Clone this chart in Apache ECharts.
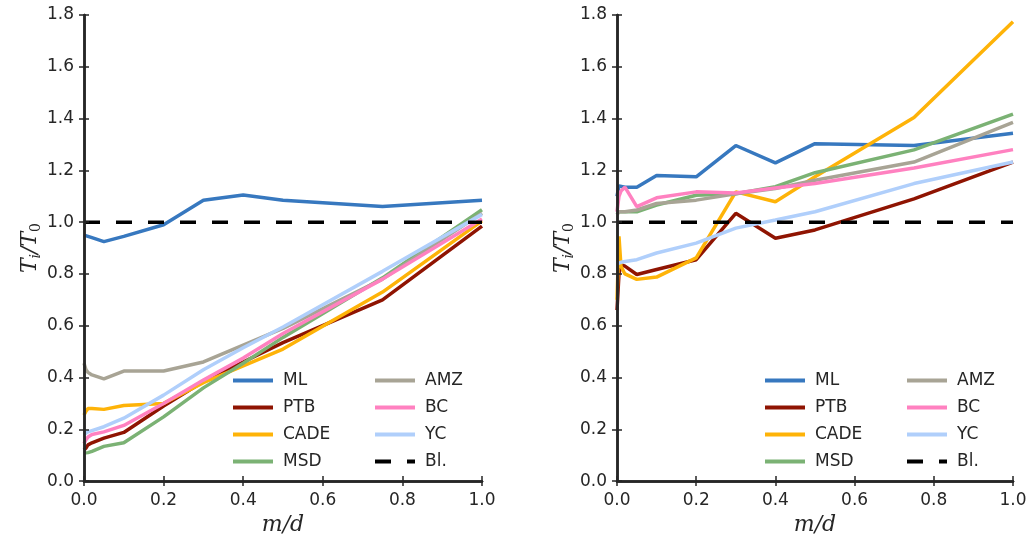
<!DOCTYPE html>
<html lang="en">

<head>
    <meta charset="UTF-8">
    <title>Ti/T0 vs m/d</title>
    <script src="https://cdn.jsdelivr.net/npm/echarts@6.0.0/dist/echarts.min.js"></script>
    <style>
        html, body { margin: 0; padding: 0; background: #fff; }
        #chart { width: 1031px; height: 541px; }
    </style>
</head>

<body>
    <div id="chart"></div>

    <script>
        // x 取值 (m/d)
        var xs = [0, 0.005, 0.01, 0.02, 0.05, 0.1, 0.2, 0.3, 0.4, 0.5, 0.75, 1.0];
        var xTicks = [0.0, 0.2, 0.4, 0.6, 0.8, 1.0];
        var yTicks = [0.0, 0.2, 0.4, 0.6, 0.8, 1.0, 1.2, 1.4, 1.6, 1.8];
        var names = ['ML', 'PTB', 'CADE', 'MSD', 'AMZ', 'BC', 'YC'];

        // 左图
        var mlL   = [0.95, 0.945, 0.945, 0.94, 0.925, 0.945, 0.99, 1.085, 1.105, 1.085, 1.06, 1.085];
        var ptbL  = [0.12, 0.128, 0.14, 0.148, 0.166, 0.188, 0.29, 0.385, 0.46, 0.535, 0.70, 0.985];
        var cadeL = [0.255, 0.27, 0.28, 0.28, 0.277, 0.292, 0.30, 0.38, 0.445, 0.51, 0.73, 1.005];
        var msdL  = [0.108, 0.108, 0.11, 0.115, 0.134, 0.148, 0.248, 0.36, 0.455, 0.555, 0.785, 1.048];
        var amzL  = [0.455, 0.43, 0.42, 0.41, 0.395, 0.425, 0.425, 0.46, 0.525, 0.59, 0.78, 1.035];
        var bcL   = [0.145, 0.16, 0.17, 0.18, 0.19, 0.215, 0.30, 0.39, 0.475, 0.57, 0.78, 1.012];
        var ycL   = [0.18, 0.185, 0.19, 0.195, 0.21, 0.243, 0.332, 0.43, 0.515, 0.595, 0.81, 1.03];

        // 右图
        var mlR   = [1.10, 1.14, 1.14, 1.135, 1.135, 1.18, 1.175, 1.296, 1.229, 1.303, 1.296, 1.343];
        var ptbR  = [0.66, 0.80, 0.836, 0.83, 0.798, 0.817, 0.855, 1.034, 0.938, 0.97, 1.09, 1.232];
        var cadeR = [0.70, 0.945, 0.83, 0.80, 0.779, 0.788, 0.862, 1.117, 1.079, 1.175, 1.404, 1.774];
        var msdR  = [1.03, 1.04, 1.04, 1.04, 1.04, 1.066, 1.104, 1.11, 1.137, 1.191, 1.279, 1.417];
        var amzR  = [1.03, 1.04, 1.04, 1.04, 1.047, 1.072, 1.085, 1.11, 1.13, 1.162, 1.232, 1.385];
        var bcR   = [1.04, 1.10, 1.12, 1.135, 1.06, 1.094, 1.117, 1.113, 1.132, 1.149, 1.209, 1.28];
        var ycR   = [0.839, 0.843, 0.845, 0.848, 0.855, 0.881, 0.919, 0.977, 1.008, 1.04, 1.149, 1.232];

        // 基线
        var baseX = [0, 1];
        var baseY = [1, 1];

        var colors = ['#3778bf', '#8f1402', '#feb308', '#7bb274', '#a8a495', '#ff81c0', '#b0cffb'];
        var ink = '#262626';

        var myChart = echarts.init(document.getElementById('chart'));

        function pairs(x, y) {
            var out = [];
            for (var i = 0; i < x.length; i++) out.push([x[i], y[i]]);
            return out;
        }

        function makeSeries(gi, sets) {
            var list = [];
            for (var i = 0; i < sets.length; i++) {
                list.push({
                    name: names[i], type: 'line', xAxisIndex: gi * 2, yAxisIndex: gi * 2,
                    data: pairs(xs, sets[i]), showSymbol: false, symbol: 'none',
                    lineStyle: { color: colors[i], width: 3.5 }, itemStyle: { color: colors[i] },
                    z: 2 + i, silent: true, animation: false
                });
            }
            list.push({
                name: 'Bl.', type: 'line', xAxisIndex: gi * 2, yAxisIndex: gi * 2,
                data: pairs(baseX, baseY), showSymbol: false, symbol: 'none',
                lineStyle: { color: '#000', width: 3.5, type: [16, 16] }, itemStyle: { color: '#000' },
                z: 10, silent: true, animation: false
            });
            return list;
        }

        var fmt = function (v) { return v.toFixed(1); };
        var tickFont = { fontFamily: 'DejaVu Sans', fontSize: 17, color: ink };
        var axisLine = { show: true, lineStyle: { color: ink, width: 2.5 } };
        var axisTick = { show: true, inside: false, length: 5, lineStyle: { color: ink, width: 1.5 } };

        function xAxes(gi) {
            var base = { type: 'value', gridIndex: gi, min: xTicks[0], max: xTicks[xTicks.length - 1], interval: 0.2,
                splitLine: { show: false }, axisLine: axisLine, axisTick: axisTick, z: 20 };
            return [
                Object.assign({}, base, {
                    position: 'bottom',
                    axisLabel: Object.assign({ formatter: fmt, margin: 11 }, tickFont),
                    name: '{i|m/d}', nameLocation: 'middle', nameGap: 28,
                    nameTextStyle: { rich: { i: { fontFamily: 'DejaVu Serif', fontStyle: 'italic', fontSize: 22, color: ink } } }
                }),
                Object.assign({}, base, { position: 'top', axisLabel: { show: false } })
            ];
        }

        function yAxes(gi) {
            var base = { type: 'value', gridIndex: gi, min: yTicks[0], max: yTicks[yTicks.length - 1], interval: 0.2,
                splitLine: { show: false }, axisLine: axisLine, axisTick: axisTick, z: 20 };
            var it = { fontFamily: 'DejaVu Serif', fontStyle: 'italic', fontSize: 22, color: ink };
            var sb = { fontFamily: 'DejaVu Serif', fontStyle: 'italic', fontSize: 14, color: ink, padding: [12, 0, 0, 0] };
            var sb0 = { fontFamily: 'DejaVu Serif', fontSize: 14, color: ink, padding: [12, 0, 0, 0] };
            return [
                Object.assign({}, base, {
                    position: 'left',
                    axisLabel: Object.assign({ formatter: fmt, margin: 10 }, tickFont),
                    name: '{i|T}{s|i}{i|/T}{z|0}', nameLocation: 'middle', nameGap: 38, nameRotate: 90,
                    nameTextStyle: { rich: { i: it, s: sb, z: sb0 } }
                }),
                Object.assign({}, base, { position: 'right', axisLabel: { show: false } })
            ];
        }

        // 图例图标: 实线条 / 虚线
        var solidIcon = 'path://M0,0H40V4H0Z';
        var dashIcon = 'path://M0,0H16V4H0Z M32,0H40V4H32Z';

        function legends(left1, left2) {
            var common = {
                orient: 'vertical', top: 367, itemWidth: 40, itemHeight: 4, itemGap: 10,
                selectedMode: false,
                textStyle: { fontFamily: 'DejaVu Sans', fontSize: 17, color: ink, lineHeight: 17, padding: [0, 0, 0, 5] }
            };
            return [
                Object.assign({}, common, { left: left1, data: [
                    { name: 'ML', icon: solidIcon }, { name: 'PTB', icon: solidIcon },
                    { name: 'CADE', icon: solidIcon }, { name: 'MSD', icon: solidIcon }] }),
                Object.assign({}, common, { left: left2, data: [
                    { name: 'AMZ', icon: solidIcon }, { name: 'BC', icon: solidIcon },
                    { name: 'YC', icon: solidIcon }, { name: 'Bl.', icon: dashIcon }] })
            ];
        }

        var leftSeries = makeSeries(0, [mlL, ptbL, cadeL, msdL, amzL, bcL, ycL]);
        var rightSeries = makeSeries(1, [mlR, ptbR, cadeR, msdR, amzR, bcR, ycR]);

        var option = {
            backgroundColor: '#fff',
            animation: false,
            grid: [
                { left: 84, top: 15, width: 398, height: 470 },
                { left: 617, top: 15, width: 396, height: 470 }
            ],
            legend: legends(228, 370).concat(legends(760, 902)),
            xAxis: xAxes(0).concat(xAxes(1)),
            yAxis: yAxes(0).concat(yAxes(1)),
            series: leftSeries.concat(rightSeries)
        };

        myChart.setOption(option);
    </script>
</body>

</html>
